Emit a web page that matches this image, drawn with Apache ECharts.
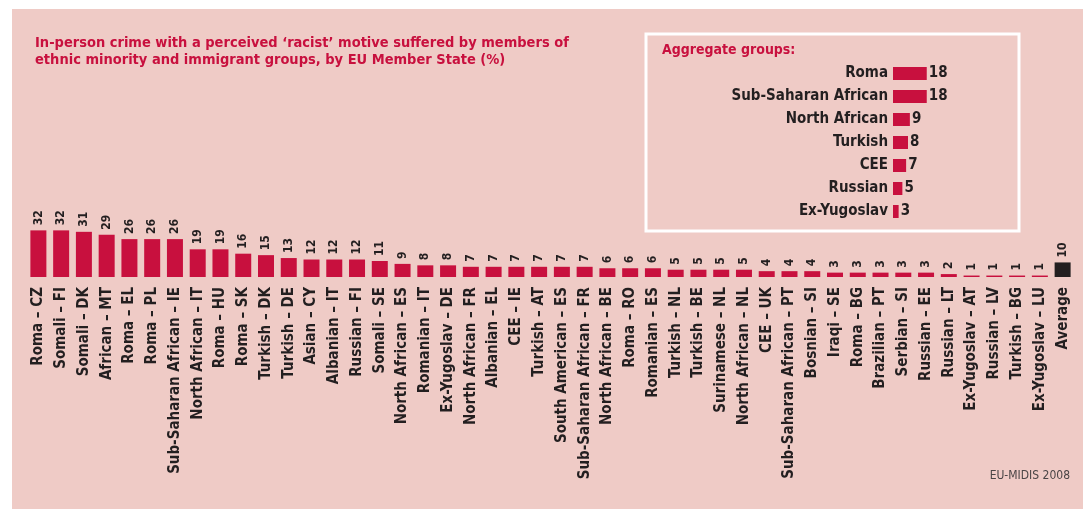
<!DOCTYPE html>
<html>
<head>
<meta charset="utf-8">
<script src="https://cdn.jsdelivr.net/npm/echarts@6/dist/echarts.min.js"></script>
<style>
  html, body { margin: 0; padding: 0; background: #ffffff; }
  #chart { width: 1092px; height: 509px; }
</style>
</head>
<body>
<div id="chart"></div>
<script>
// main chart data
const categories = [
  "Roma – CZ", "Somali – FI", "Somali – DK", "African – MT", "Roma – EL", "Roma – PL",
  "Sub-Saharan African – IE", "North African – IT", "Roma – HU", "Roma – SK", "Turkish – DK",
  "Turkish – DE", "Asian – CY", "Albanian – IT", "Russian – FI", "Somali – SE",
  "North African – ES", "Romanian – IT", "Ex-Yugoslav – DE", "North African – FR",
  "Albanian – EL", "CEE – IE", "Turkish – AT", "South American – ES",
  "Sub-Saharan African – FR", "North African – BE", "Roma – RO", "Romanian – ES",
  "Turkish – NL", "Turkish – BE", "Surinamese – NL", "North African – NL", "CEE – UK",
  "Sub-Saharan African – PT", "Bosnian – SI", "Iraqi – SE", "Roma – BG", "Brazilian – PT",
  "Serbian – SI", "Russian – EE", "Russian – LT", "Ex-Yugoslav – AT", "Russian – LV",
  "Turkish – BG", "Ex-Yugoslav – LU", "Average"
];
const values = [
  32, 32, 31, 29, 26, 26, 26, 19, 19, 16, 15, 13, 12, 12, 12, 11, 9, 8, 8, 7, 7, 7, 7, 7, 7,
  6, 6, 6, 5, 5, 5, 5, 4, 4, 4, 3, 3, 3, 3, 3, 2, 1, 1, 1, 1, 10
];

// inset: aggregate groups
const groupNames = ["Roma", "Sub-Saharan African", "North African", "Turkish", "CEE", "Russian", "Ex-Yugoslav"];
const groupValues = [18, 18, 9, 8, 7, 5, 3];

const crimson = "#c8103e";
const ink = "#231f20";
const pink = "#efcbc6";
const font = "'Liberation Sans Narrow', 'DejaVu Sans Condensed', sans-serif";

const chart = echarts.init(document.getElementById("chart"));

const option = {
  backgroundColor: "#ffffff",
  animation: false,
  textStyle: { fontFamily: font },
  graphic: [
    { type: "rect", z: -10, shape: { x: 12, y: 9, width: 1071, height: 500 }, style: { fill: pink } },
    {
      type: "rect", z: -5,
      shape: { x: 646, y: 34, width: 373, height: 197 },
      style: { fill: "none", stroke: "#ffffff", lineWidth: 3 }
    },
    {
      type: "text", left: 35, top: 35,
      style: {
        text: "In-person crime with a perceived ‘racist’ motive suffered by members of\nethnic minority and immigrant groups, by EU Member State (%)",
        fill: crimson, font: "bold 14.5px " + font, lineHeight: 17
      }
    },
    {
      type: "text", left: 662, top: 43,
      style: { text: "Aggregate groups:", fill: crimson, font: "bold 14px " + font }
    },
    {
      type: "text", right: 22, top: 470,
      style: { text: "EU-MIDIS 2008", fill: "#4a4546", font: "12px " + font }
    }
  ],
  grid: [
    { left: 27, right: 18, top: 226, bottom: 232 },
    { left: 893, width: 60, top: 62, height: 161 }
  ],
  xAxis: [
    {
      type: "category", gridIndex: 0, data: categories,
      axisLine: { show: false }, axisTick: { show: false }, splitLine: { show: false },
      axisLabel: {
        interval: 0, rotate: 90, margin: 10,
        color: ink, fontSize: 15, fontWeight: "bold", fontFamily: font
      }
    },
    {
      type: "value", gridIndex: 1, min: 0, max: 32, show: false
    }
  ],
  yAxis: [
    { type: "value", gridIndex: 0, min: 0, max: 35, show: false },
    {
      type: "category", gridIndex: 1, data: groupNames, inverse: true,
      axisLine: { show: false }, axisTick: { show: false },
      axisLabel: { color: ink, fontSize: 15, fontWeight: "bold", fontFamily: font, margin: 5 }
    }
  ],
  series: [
    {
      type: "bar", xAxisIndex: 0, yAxisIndex: 0,
      data: values.map((v, i) => ({
        value: v,
        itemStyle: { color: categories[i] === "Average" ? ink : crimson }
      })),
      barWidth: 16,
      label: {
        show: true, position: "top", rotate: 90, align: "left", verticalAlign: "middle",
        distance: 5, color: ink, fontSize: 12, fontWeight: "bold", fontFamily: font
      }
    },
    {
      type: "bar", xAxisIndex: 1, yAxisIndex: 1,
      data: groupValues, barWidth: 13,
      itemStyle: { color: crimson },
      label: {
        show: true, position: "right", distance: 2,
        color: ink, fontSize: 15, fontWeight: "bold", fontFamily: font
      }
    }
  ]
};

chart.setOption(option);
</script>
</body>
</html>
